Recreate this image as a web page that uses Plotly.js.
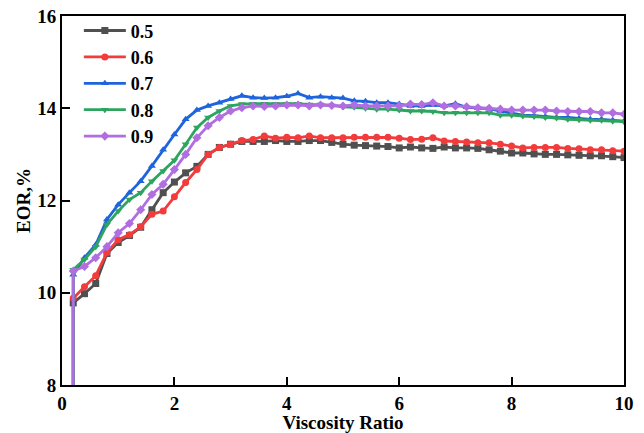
<!DOCTYPE html>
<html>
<head>
<meta charset="utf-8">
<script src="https://cdn.plot.ly/plotly-3.0.1.min.js"></script>
<style>html,body{margin:0;padding:0;background:#fff;}#chart{width:644px;height:433px;}</style>
</head>
<body>
<div id="chart"></div>
<script>
var xValues = [0.2, 0.2, 0.4, 0.6, 0.8, 1.0, 1.2, 1.4, 1.6, 1.8, 2.0, 2.2, 2.4, 2.6, 2.8, 3.0, 3.2, 3.4, 3.6, 3.8, 4.0,
  4.2, 4.4, 4.6, 4.8, 5.0, 5.2, 5.4, 5.6, 5.8, 6.0, 6.2, 6.4, 6.6, 6.8, 7.0, 7.2, 7.4, 7.6, 7.8, 8.0,
  8.2, 8.4, 8.6, 8.8, 9.0, 9.2, 9.4, 9.6, 9.8, 10.0];

var series05 = [0, 9.78, 9.98, 10.2, 10.85, 11.09, 11.24, 11.42, 11.8, 12.17, 12.4, 12.6, 12.74, 13.0, 13.15, 13.22, 13.28, 13.28, 13.28, 13.3, 13.28,
  13.28, 13.3, 13.3, 13.26, 13.22, 13.2, 13.19, 13.18, 13.17, 13.14, 13.16, 13.14, 13.13, 13.16, 13.14, 13.14, 13.13, 13.1, 13.07, 13.03,
  13.03, 13.01, 13.0, 13.0, 12.99, 12.98, 12.97, 12.97, 12.95, 12.93];

var series06 = [0, 9.88, 10.13, 10.37, 10.87, 11.15, 11.26, 11.43, 11.7, 11.77, 12.08, 12.39, 12.67, 13.0, 13.15, 13.22, 13.3, 13.32, 13.4, 13.35, 13.37,
  13.36, 13.4, 13.36, 13.36, 13.36, 13.37, 13.37, 13.37, 13.37, 13.35, 13.32, 13.33, 13.36, 13.29, 13.28, 13.27, 13.25, 13.25, 13.22, 13.18,
  13.14, 13.15, 13.15, 13.15, 13.13, 13.12, 13.1, 13.1, 13.08, 13.07];

var series07 = [0, 10.39, 10.76, 11.04, 11.59, 11.91, 12.17, 12.42, 12.75, 13.1, 13.43, 13.76, 13.96, 14.05, 14.12, 14.2, 14.27, 14.23, 14.22, 14.23, 14.26,
  14.32, 14.23, 14.25, 14.23, 14.22, 14.16, 14.15, 14.12, 14.12, 14.09, 14.05, 14.05, 14.07, 14.05, 14.1, 14.02, 14.0, 13.99, 13.94, 13.9,
  13.85, 13.84, 13.82, 13.8, 13.8, 13.78, 13.76, 13.76, 13.74, 13.72];

var series08 = [0, 10.5, 10.72, 11.0, 11.48, 11.77, 12.02, 12.17, 12.42, 12.64, 12.87, 13.22, 13.58, 13.8, 13.94, 14.05, 14.09, 14.1, 14.1, 14.09, 14.1,
  14.1, 14.08, 14.08, 14.06, 14.03, 14.02, 14.0, 13.98, 13.98, 13.96, 13.94, 13.94, 13.93, 13.9, 13.9, 13.9, 13.9, 13.9, 13.85, 13.85,
  13.83, 13.82, 13.8, 13.79, 13.76, 13.75, 13.74, 13.74, 13.72, 13.71];

var series09 = [0, 10.47, 10.57, 10.76, 11.0, 11.3, 11.5, 11.8, 12.13, 12.35, 12.67, 13.0, 13.36, 13.62, 13.8, 13.94, 14.01, 14.05, 14.04, 14.05, 14.07,
  14.07, 14.05, 14.07, 14.06, 14.05, 14.07, 14.05, 14.05, 14.05, 14.05, 14.09, 14.08, 14.12, 14.05, 14.05, 14.03, 14.01, 14.0, 13.98, 13.96,
  13.96, 13.96, 13.96, 13.94, 13.93, 13.93, 13.93, 13.9, 13.9, 13.87];

var seriesNames = ['0.5', '0.6', '0.7', '0.8', '0.9'];
var seriesData = [series05, series06, series07, series08, series09];
var seriesColors = ['#505050', '#f23c3c', '#1e64dc', '#2ea55e', '#b06ee0'];
var seriesSymbols = ['square', 'circle', 'triangle-up', 'triangle-down', 'diamond'];

var traces = seriesData.map(function (ys, i) {
  return {
    x: xValues,
    y: ys,
    name: seriesNames[i],
    type: 'scatter',
    mode: 'lines+markers',
    line: {color: seriesColors[i], width: 2.8},
    marker: {color: seriesColors[i], symbol: seriesSymbols[i], size: 7}
  };
});

var fam = 'Liberation Serif, Times New Roman, serif';

var layout = {
  width: 644,
  height: 433,
  margin: {l: 62, r: 20, t: 16, b: 48},
  paper_bgcolor: '#fff',
  plot_bgcolor: '#fff',
  showlegend: true,
  font: {family: fam, color: '#000'},
  legend: {
    x: 0.03, y: 1.01, xanchor: 'left', yanchor: 'top',
    bgcolor: 'rgba(0,0,0,0)',
    font: {family: fam, size: 18, color: '#000', weight: 'bold'},
    tracegroupgap: 0,
    itemwidth: 42
  },
  xaxis: {
    range: [0, 10],
    dtick: 2,
    tick0: 0,
    showgrid: false,
    zeroline: false,
    showline: true,
    linecolor: '#000',
    linewidth: 2,
    mirror: true,
    ticks: 'inside',
    ticklen: 8,
    tickwidth: 2,
    tickcolor: '#000',
    tickfont: {family: fam, size: 19, color: '#000', weight: 'bold'},
    title: {text: 'Viscosity Ratio', font: {family: fam, size: 19, color: '#000', weight: 'bold'}, standoff: 1}
  },
  yaxis: {
    range: [8, 16],
    dtick: 2,
    tick0: 8,
    showgrid: false,
    zeroline: false,
    showline: true,
    linecolor: '#000',
    linewidth: 2,
    mirror: true,
    ticks: 'inside',
    ticklen: 8,
    tickwidth: 2,
    tickcolor: '#000',
    tickfont: {family: fam, size: 19, color: '#000', weight: 'bold'},
    title: {text: 'EOR,%', font: {family: fam, size: 19, color: '#000', weight: 'bold'}, standoff: 2}
  }
};

Plotly.newPlot('chart', traces, layout, {displayModeBar: false, staticPlot: true});
</script>
</body>
</html>
